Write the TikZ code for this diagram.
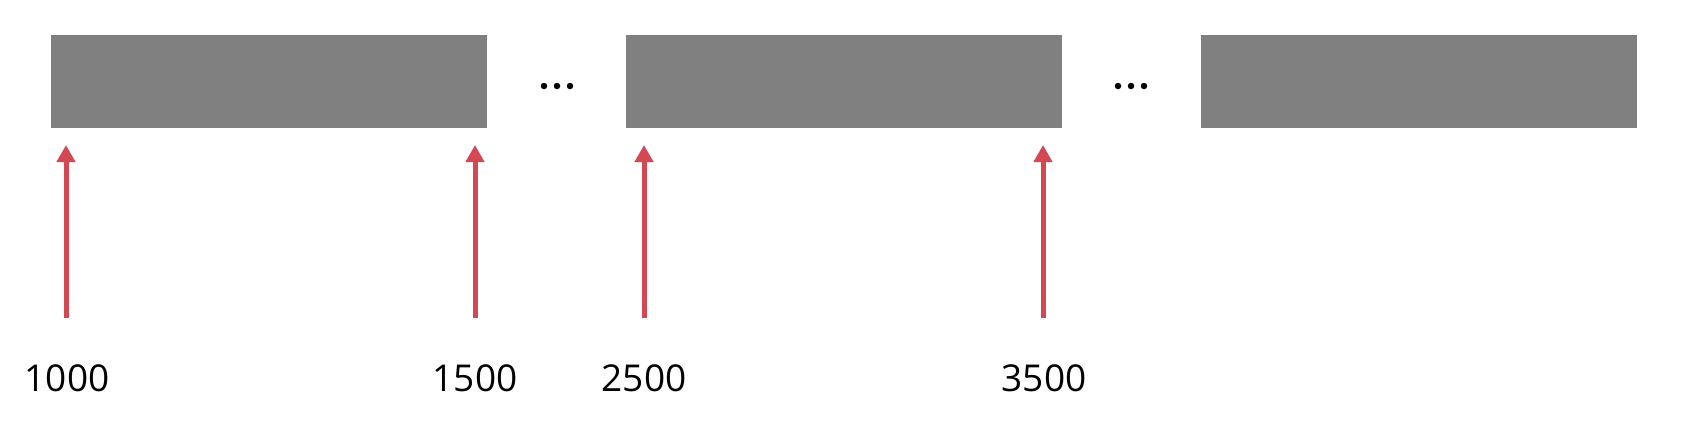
\documentclass[tikz,border=0pt]{standalone}
\usepackage{fontspec}
\setmainfont{Open Sans}
\usetikzlibrary{arrows.meta}
\definecolor{boxgray}{RGB}{128,128,128}
\definecolor{arrowred}{RGB}{212,72,84}
\tikzset{
  block/.style={fill=boxgray, draw=none, minimum width=436pt, minimum height=93pt, inner sep=0pt, anchor=north west},
  uparrow/.style={draw=arrowred, line width=5pt, -{Triangle[width=18pt,length=17pt]}},
  lbl/.style={font=\fontsize{37}{40}\selectfont, inner sep=0pt, anchor=base},
  dotmark/.style={circle, fill=black, minimum size=6.5pt, inner sep=0pt}
}
\begin{document}
\begin{tikzpicture}[x=1pt,y=-1pt]
\useasboundingbox (0,0) rectangle (1702,447);
\node[block] (b1) at (51,35) {};
\node[block] (b2) at (626,35) {};
\node[block] (b3) at (1201,35) {};
\node[dotmark] (d1a) at (544,86) {};
\node[dotmark] (d1b) at (557,86) {};
\node[dotmark] (d1c) at (570,86) {};
\node[dotmark] (d2a) at (1118,86) {};
\node[dotmark] (d2b) at (1131,86) {};
\node[dotmark] (d2c) at (1144,86) {};
\coordinate (s1) at (66,318); \coordinate (t1) at (66,145);
\coordinate (s2) at (475,318); \coordinate (t2) at (475,145);
\coordinate (s3) at (644,318); \coordinate (t3) at (644,145);
\coordinate (s4) at (1043,318); \coordinate (t4) at (1043,145);
\draw[uparrow] (s1) -- (t1);
\draw[uparrow] (s2) -- (t2);
\draw[uparrow] (s3) -- (t3);
\draw[uparrow] (s4) -- (t4);
\node[lbl] (l1) at (67,391) {1000};
\node[lbl] (l2) at (475,391) {1500};
\node[lbl] (l3) at (644,391) {2500};
\node[lbl] (l4) at (1044,391) {3500};
\end{tikzpicture}
\end{document}
